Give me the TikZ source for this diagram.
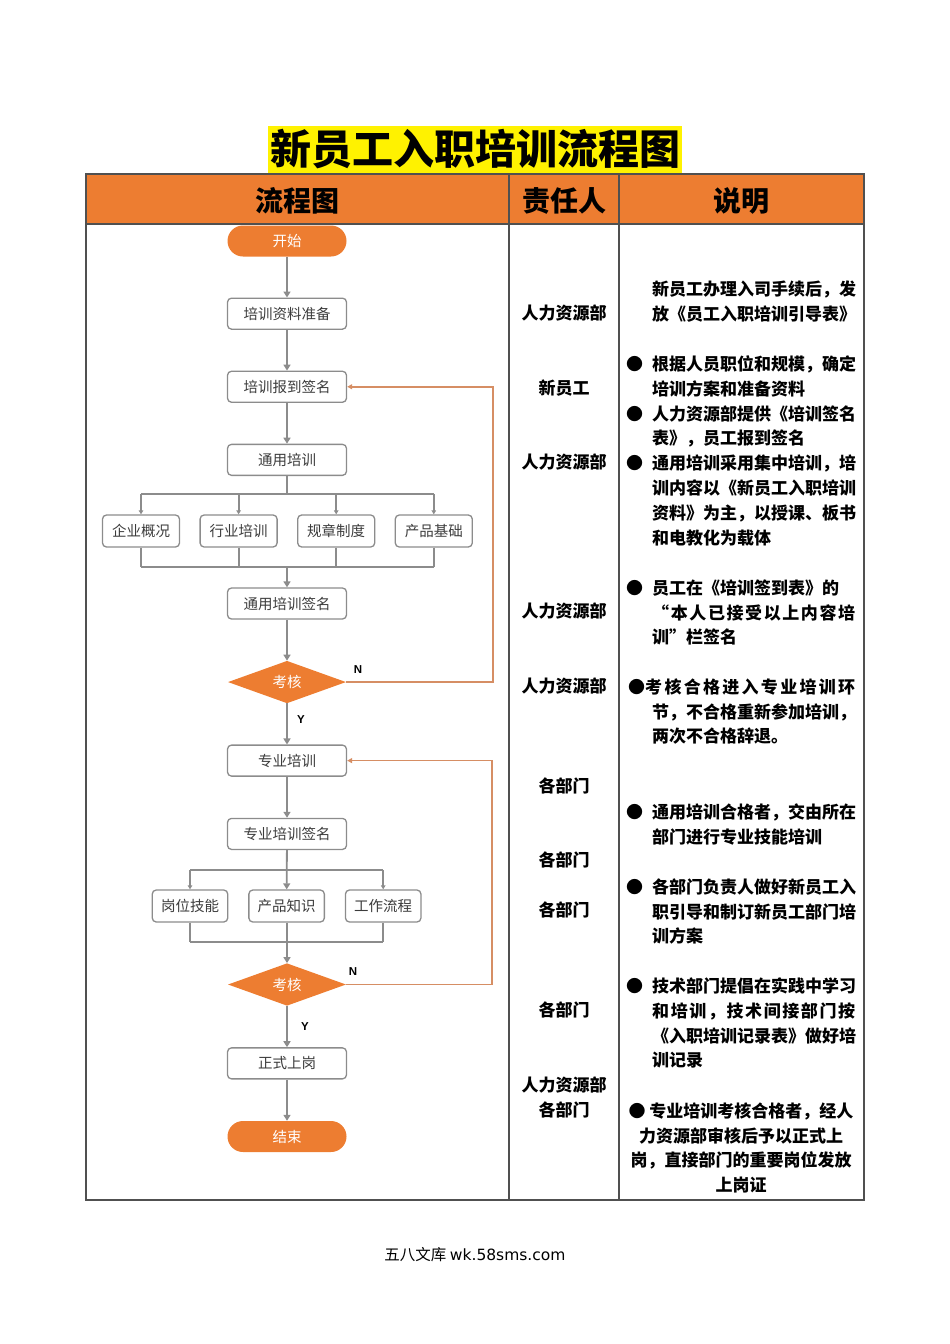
\documentclass[tikz,border=0pt]{standalone}
\usepackage{fontspec}
\usetikzlibrary{positioning,shapes.geometric,arrows.meta,chains}
\setmainfont{Noto Sans CJK SC}
\newfontfamily\cjk{Noto Sans CJK SC}
\newfontfamily\latin{Liberation Sans}
\newfontfamily\footlatin{DejaVu Sans}
\definecolor{hdorange}{RGB}{237,125,49}
\definecolor{linegray}{RGB}{140,140,140}
\definecolor{textgray}{RGB}{60,60,60}
\definecolor{loopline}{RGB}{214,142,100}
\definecolor{rulegray}{RGB}{80,80,80}
\newcommand{\bul}{\llap{●\hspace{9pt}}}

\begin{document}
\begin{tikzpicture}[
            x=1pt, y=-1pt,
            every node/.style={ font=\cjk\fontsize{14.5}{17}\selectfont, inner sep=0pt },
            stepbox/.style={ draw=linegray, line width=1.3pt, rounded corners=4pt, fill=white, text=textgray, minimum width=119pt, minimum height=31pt },
            subbox/.style={ stepbox, minimum width=77pt, minimum height=32pt },
            term/.style={ fill=hdorange, rounded corners=15.5pt, text=white, minimum width=119pt, minimum height=31pt },
            decide/.style={ diamond, fill=hdorange, text=white, minimum width=118pt, minimum height=42pt },
            flow/.style={ draw=linegray, line width=2.8pt, -{Triangle[length=6pt,width=7pt]} },
            branch/.style={ draw=linegray, line width=1.8pt },
            back/.style={ draw=loopline, line width=1.5pt, -{Triangle[length=5pt,width=5pt]} },
            yn/.style={ font=\latin\bfseries\fontsize{11.5}{13}\selectfont },
            head/.style={ font=\cjk\bfseries\fontsize{28}{32}\selectfont },
            who/.style={ font=\cjk\bfseries\fontsize{17}{25}\selectfont, align=center },
            desc/.style={ font=\cjk\bfseries\fontsize{17}{24.85}\selectfont, align=left, anchor=north west }
        ]
        \useasboundingbox (0,0) rectangle (950,1344);

        % table
        \fill[hdorange] (86,174) rectangle (864,224);
        \draw[rulegray, line width=1.2pt] (86,174) rectangle (864,1200) (86,224) -- (864,224)
            (509,174) -- (509,1200) (619,174) -- (619,1200);
        \node[fill=yellow, inner xsep=2pt, minimum height=47pt, font=\cjk\bfseries\fontsize{41}{45}\selectfont] (title) at (475,149.5) {新员工入职培训流程图};
        \node[head] (hflow) at (297,201) {流程图};
        \node[head] (hwho) at (564,201) {责任人};
        \node[head] (hnote) at (741,201) {说明};

        % flow column
        \begin{scope}[start chain=main going below, node distance=40.8pt]
            \node[term, on chain=main] (begin) at (287,241) {开始};
            \node[stepbox, on chain=main] (prep) {培训资料准备};
            \node[stepbox, on chain=main] (sign) {培训报到签名};
            \node[stepbox, on chain=main] (general) {通用培训};
        \end{scope}
        \begin{scope}[start chain=topic going right, node distance=19.3pt]
            \node[subbox, on chain=topic] at (141,531) {企业概况};
            \node[subbox, on chain=topic] {行业培训};
            \node[subbox, on chain=topic] {规章制度};
            \node[subbox, on chain=topic] {产品基础};
        \end{scope}
        \begin{scope}[start chain=mid going below, node distance=41pt]
            \node[stepbox, on chain=mid] (gensign) at (287,603.5) {通用培训签名};
            \node[decide, on chain=mid] (check1) {考核};
            \node[stepbox, on chain=mid] (prof) {专业培训};
            \node[stepbox, on chain=mid] (profsign) {专业培训签名};
        \end{scope}
        \begin{scope}[start chain=skill going right, node distance=19.8pt]
            \node[subbox, minimum width=75.5pt, on chain=skill] at (190,906) {岗位技能};
            \node[subbox, minimum width=75.5pt, on chain=skill] {产品知识};
            \node[subbox, minimum width=75.5pt, on chain=skill] {工作流程};
        \end{scope}
        \begin{scope}[start chain=last going below, node distance=41.3pt]
            \node[decide, on chain=last] (check2) at (287,984.5) {考核};
            \node[stepbox, on chain=last] (onjob) {正式上岗};
            \node[term, on chain=last] (finish) {结束};
        \end{scope}

        \draw[flow] (begin) -- (prep);
        \draw[flow] (prep) -- (sign);
        \draw[flow] (sign) -- (general);
        \coordinate (fan1) at (287,494);
        \coordinate (join1) at (287,567);
        \draw[branch] (general) -- (fan1) (topic-1.north |- fan1) -- (topic-4.north |- fan1)
            (topic-1.south |- join1) -- (topic-4.south |- join1);
        \foreach \i in {1,...,4} {
            \draw[branch, -{Triangle[length=4pt,width=4.5pt]}] (topic-\i.north |- fan1) -- (topic-\i);
            \draw[branch] (topic-\i) -- (topic-\i.south |- join1);
        }
        \draw[flow, line width=1.8pt] (join1) -- (gensign);
        \draw[flow] (gensign) -- (check1);
        \draw[flow] (check1) -- (prof);
        \draw[flow] (prof) -- (profsign);
        \coordinate (fan2) at (287,870);
        \coordinate (join2) at (287,942);
        \draw[branch] (skill-1.north |- fan2) -- (skill-3.north |- fan2)
            (skill-1.south |- join2) -- (skill-3.south |- join2);
        \draw[flow, line width=1.8pt] (profsign) -- (skill-2);
        \foreach \i in {1,3}
            \draw[branch, -{Triangle[length=4pt,width=4.5pt]}] (skill-\i.north |- fan2) -- (skill-\i);
        \foreach \i in {1,2,3}
            \draw[branch] (skill-\i) -- (skill-\i.south |- join2);
        \draw[flow, line width=1.8pt] (join2) -- (check2);
        \draw[flow] (check2) -- (onjob);
        \draw[flow] (onjob) -- (finish);

        % way back when failed
        \draw[back] (check1.east) -- ++(147,0) |- (sign.east);
        \draw[back] (check2.east) -- ++(146,0) |- (prof.east);
        \node[yn] (no1) at (358,670) {N};
        \node[yn] (yes1) at (301,720) {Y};
        \node[yn] (no2) at (353,972) {N};
        \node[yn] (yes2) at (305,1027) {Y};

        % who is in charge
        \foreach \y/\t [count=\i] in {313/人力资源部, 388/新员工, 462/人力资源部, 611/人力资源部, 686/人力资源部,
                786/各部门, 860/各部门, 910/各部门, 1010/各部门, 1097.5/{人力资源部\\各部门}}
            \node[who] (who\i) at (564,\y) {\t};

        % notes
        \node[desc] (note1) at (652,280.3) {新员工办理入司手续后，发\\放《员工入职培训引导表》};
        \node[desc] (note2) at (652,355.3) {\bul 根据人员职位和规模，确定\\培训方案和准备资料\\\bul 人力资源部提供《培训签名\\表》，员工报到签名\\\bul 通用培训采用集中培训，培\\训内容以《新员工入职培训\\资料》为主，以授课、板书\\和电教化为载体};
        \node[desc] (note3) at (652,579.3) {\bul 员工在《培训签到表》的\\\makebox[203pt]{“\hfill 本\hfill 人\hfill 已\hfill 接\hfill 受\hfill 以\hfill 上\hfill 内\hfill 容\hfill 培}\\训”栏签名};
        \node[desc] (note4) at (652,678.3) {\hspace*{-7pt}\llap{●}\makebox[210pt]{考\hfill 核\hfill 合\hfill 格\hfill 进\hfill 入\hfill 专\hfill 业\hfill 培\hfill 训\hfill 环}\\节，不合格重新参加培训，\\两次不合格辞退。};
        \node[desc] (note5) at (652,803.3) {\bul 通用培训合格者，交由所在\\部门进行专业技能培训};
        \node[desc] (note6) at (652,878.3) {\bul 各部门负责人做好新员工入\\职引导和制订新员工部门培\\训方案};
        \node[desc] (note7) at (652,977.3) {\bul 技术部门提倡在实践中学习\\\makebox[203pt]{和\hfill 培\hfill 训\hfill ，\hfill 技\hfill 术\hfill 间\hfill 接\hfill 部\hfill 门\hfill 按}\\《入职培训记录表》做好培\\训记录};
        \node[desc, align=center, anchor=north] (note8) at (741,1102.3) {● 专业培训考核合格者，经人\\力资源部审核后予以正式上\\岗，直接部门的重要岗位发放\\上岗证};

        \node[font=\cjk\fontsize{15.5}{18}\selectfont] (site) at (475,1255) {五八文库 {\footlatin wk.58sms.com}};
    \end{tikzpicture}
\end{document}
